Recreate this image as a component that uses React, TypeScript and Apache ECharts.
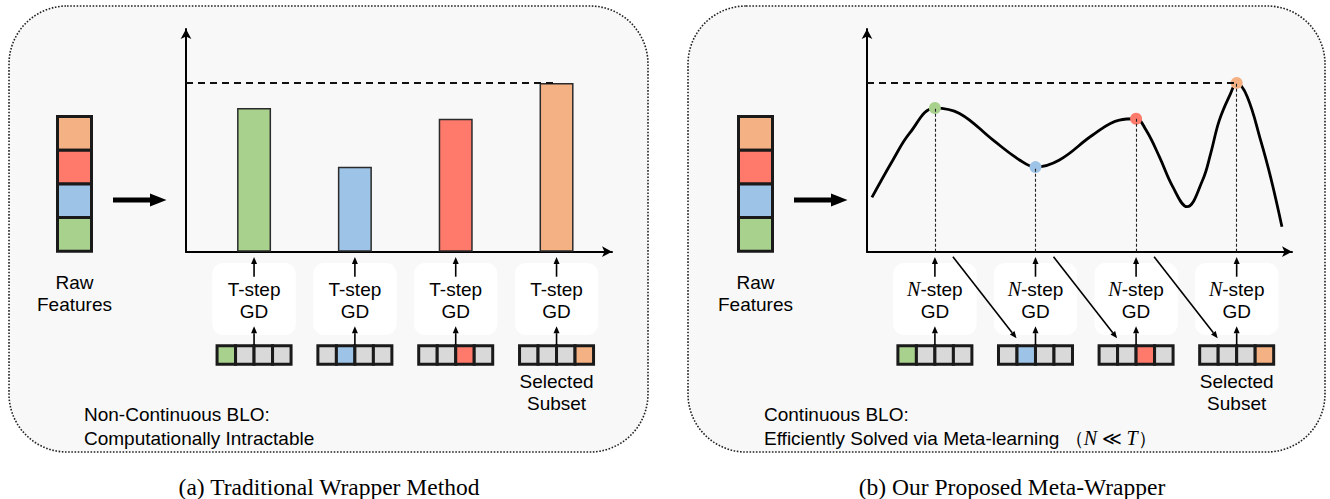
import React, { useEffect, useRef } from "react";
import * as echarts from "echarts";

// ---------- data ----------
const features = [1, 2, 3, 4];
const featureColors = ["#A9D18E", "#9DC3E6", "#FF7A6B", "#F4B183"];
const cellGrey = "#D9D9D9";
const rawOrder = [3, 2, 1, 0]; // colour index of raw feature cells, top to bottom
const wrapperScores = [0.645, 0.382, 0.597, 0.758];
const metaScores = [0.645, 0.38, 0.597, 0.758];
const bestScore = 0.758;
const curveX = [0.374, 0.583, 0.749, 1.0, 1.245, 1.576, 1.841, 2.0, 2.238, 2.569, 2.834, 3.0, 3.099, 3.231, 3.364, 3.507, 3.662, 3.742, 3.828, 3.94, 4.0, 4.105, 4.237, 4.336, 4.45];
const curveY = [0.244, 0.412, 0.532, 0.645, 0.621, 0.502, 0.412, 0.38, 0.412, 0.524, 0.591, 0.597, 0.546, 0.427, 0.292, 0.202, 0.322, 0.442, 0.591, 0.711, 0.758, 0.696, 0.502, 0.337, 0.112];
const rawLabel = "Raw\nFeatures";
const leftStepLabel = "T-step\nGD";
const rightStepLabel = "{n|N}-step\nGD";
const subsetLabel = "Selected\nSubset";
const leftNote = "Non-Continuous BLO:\nComputationally Intractable";
const rightNote = "Continuous BLO:\nEfficiently Solved via Meta-learning {s|（}{i|N}{s| ≪ }{i|T}{s|）}";
const captions = ["(a) Traditional Wrapper Method", "(b) Our Proposed Meta-Wrapper"];

const X_MIN = 0.325;
const X_MAX = 4.55;
const SANS = '"Liberation Sans", Arial, sans-serif';
const SERIF = '"Liberation Serif", "DejaVu Serif", serif';

export default function App() {
  const ref = useRef<HTMLDivElement>(null);

  useEffect(() => {
    const chart = echarts.init(ref.current as HTMLDivElement, undefined, { renderer: "svg" });

    const axisLine = {
      show: true,
      onZero: false,
      symbol: ["none", "arrow"],
      symbolSize: [8, 10],
      lineStyle: { color: "#000", width: 2 },
    };
    const mkX = (g: number) => ({
      type: "value", gridIndex: g, min: X_MIN, max: X_MAX, position: "bottom",
      axisLine, axisTick: { show: false }, axisLabel: { show: false }, splitLine: { show: false },
    });
    const mkY = (g: number) => ({
      type: "value", gridIndex: g, min: 0, max: 1, position: "left",
      axisLine, axisTick: { show: false }, axisLabel: { show: false }, splitLine: { show: false },
    });
    const dashed = { type: [7, 5], width: 2, color: "#111" };

    chart.setOption({
      animation: false,
      backgroundColor: "#fff",
      grid: [
        { left: 186, top: 29, width: 426, height: 222.7 },
        { left: 867, top: 29, width: 425, height: 222.7 },
      ],
      xAxis: [mkX(0), mkX(1)],
      yAxis: [mkY(0), mkY(1)],
      series: [
        {
          type: "bar",
          xAxisIndex: 0,
          yAxisIndex: 0,
          barWidth: 34,
          z: 2,
          data: features.map((f, i) => ({
            value: [f, wrapperScores[i]],
            itemStyle: { color: featureColors[i], borderColor: "#2b2b2b", borderWidth: 1.5 },
          })),
          markLine: {
            silent: true,
            symbol: ["none", "none"],
            label: { show: false },
            lineStyle: dashed,
            data: [[{ coord: [X_MIN, bestScore] }, { coord: [4, bestScore] }]],
          },
        },
        {
          type: "line",
          xAxisIndex: 1,
          yAxisIndex: 1,
          smooth: 0.4,
          showSymbol: false,
          z: 3,
          lineStyle: { color: "#000", width: 2.8 },
          data: curveX.map((x, i) => [x, curveY[i]]),
        },
        {
          type: "scatter",
          xAxisIndex: 1,
          yAxisIndex: 1,
          symbolSize: 12,
          z: 4,
          data: features.map((f, i) => ({
            value: [f, metaScores[i]],
            itemStyle: { color: featureColors[i], opacity: 1 },
          })),
          markLine: {
            silent: true,
            symbol: ["none", "none"],
            label: { show: false },
            data: [
              [{ coord: [X_MIN, bestScore], lineStyle: dashed }, { coord: [4, bestScore] }],
              ...features.map((f, i) => [
                { coord: [f, 0], lineStyle: { type: [3, 2], width: 1.1, color: "#222" } },
                { coord: [f, metaScores[i]] },
              ]),
            ],
          },
        },
      ],
    });

    const px = (g: number, x: number, y: number) =>
      chart.convertToPixel({ gridIndex: g } as any, [x, y]) as unknown as number[];

    const els: any[] = [];
    const arrow = (x1: number, y1: number, x2: number, y2: number) => {
      const a = Math.atan2(y2 - y1, x2 - x1);
      const hl = 7, hw = 6;
      const bx = x2 - hl * Math.cos(a), by = y2 - hl * Math.sin(a);
      const ox = (-Math.sin(a) * hw) / 2, oy = (Math.cos(a) * hw) / 2;
      els.push({ type: "line", z: 6, shape: { x1, y1, x2: bx, y2: by }, style: { stroke: "#000", lineWidth: 1.6 } });
      els.push({ type: "polygon", z: 6, shape: { points: [[x2, y2], [bx + ox, by + oy], [bx - ox, by - oy]] }, style: { fill: "#000" } });
    };
    const txt = (x: number, y: number, text: string, extra: any = {}) => {
      els.push({
        type: "text", z: 7, x, y,
        style: {
          text, fill: "#000", font: `19px ${SANS}`, align: "center", verticalAlign: "middle",
          lineHeight: 22, ...extra,
        },
      });
    };

    const panels = [
      { x: 9, y: 6, w: 639, h: 446 },
      { x: 688, y: 6, w: 637, h: 446 },
    ];
    const baseX = px(0, X_MIN, 0)[0];

    [0, 1].forEach((g) => {
      const p = panels[g];
      els.push({
        type: "rect", z: -10,
        shape: { x: p.x, y: p.y, width: p.w, height: p.h, r: 58 },
        style: { fill: "#F8F8F8", stroke: "#222", lineWidth: 1.6, lineDash: [1.6, 1.6] },
      });
      const origin = px(g, X_MIN, 0);
      const axisY = origin[1];
      const dx = origin[0] - baseX;

      // raw feature column
      rawOrder.forEach((ci, k) => {
        els.push({
          type: "rect", z: 5,
          shape: { x: 57.5 + dx, y: 116.5 + k * 33.7, width: 34, height: 33.7 },
          style: { fill: featureColors[ci], stroke: "#1a1a1a", lineWidth: 3 },
        });
      });
      // big arrow
      els.push({
        type: "polygon", z: 5,
        shape: {
          points: [[113, 197.6], [150, 197.6], [150, 193.5], [166.5, 200], [150, 206.5], [150, 202.4], [113, 202.4]].map(
            ([x, y]) => [x + dx, y]
          ),
        },
        style: { fill: "#000" },
      });
      txt(74.5 + dx, 293, rawLabel);

      const cxs = features.map((f) => px(g, f, 0)[0]);
      cxs.forEach((cx, i) => {
        els.push({
          type: "rect", z: 4,
          shape: { x: cx - 41.7, y: axisY + 11.3, width: 83.4, height: 72, r: 11 },
          style: { fill: "#FFFFFF" },
        });
        arrow(cx, axisY + 25, cx, axisY + 5.4);
        arrow(cx, axisY + 93, cx, axisY + 74.5);
        for (let k = 0; k < 4; k++) {
          els.push({
            type: "rect", z: 5,
            shape: { x: cx - 37 + k * 18.5, y: axisY + 94.1, width: 18.5, height: 18.5 },
            style: { fill: k === i ? featureColors[i] : cellGrey, stroke: "#1a1a1a", lineWidth: 3 },
          });
        }
        if (g === 0) {
          txt(cx, axisY + 48.3, leftStepLabel);
        } else {
          txt(cx, axisY + 48.3, rightStepLabel, {
            rich: { n: { font: `italic 20px ${SERIF}`, lineHeight: 22 } },
          });
        }
        if (g === 1 && i < 3) {
          arrow(cx + 18, axisY + 5, cxs[i + 1] - 19, axisY + 86.6);
        }
      });
      txt(cxs[3], axisY + 141.2, subsetLabel);

      if (g === 0) {
        txt(84, 426, leftNote, { align: "left", lineHeight: 24 });
      } else {
        txt(764, 426, rightNote, {
          align: "left",
          lineHeight: 24,
          rich: {
            s: { font: `19px ${SERIF}`, lineHeight: 24 },
            i: { font: `italic 20px ${SERIF}`, lineHeight: 24 },
          },
        });
      }
    });

    txt(329, 487, captions[0], { font: `23.5px ${SERIF}` });
    txt(1012, 487, captions[1], { font: `23.5px ${SERIF}` });

    chart.setOption({ graphic: els });

    return () => chart.dispose();
  }, []);

  return (
    <div
      ref={ref}
      style={{ position: "fixed", left: 0, top: 0, width: 1330, height: 499, background: "#fff" }}
    />
  );
}
